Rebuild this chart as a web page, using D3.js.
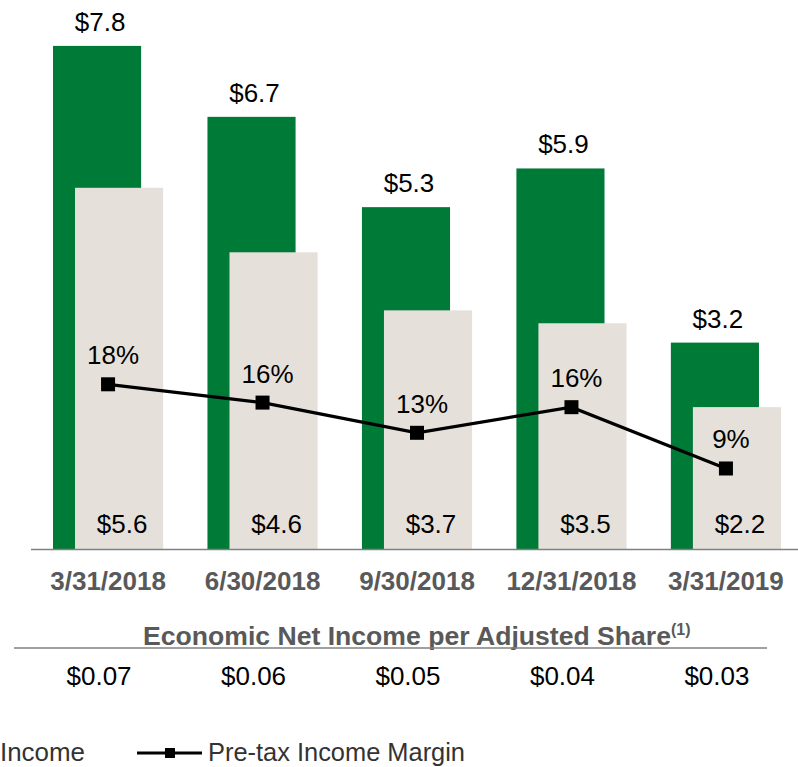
<!DOCTYPE html>
<html>
<head>
<meta charset="utf-8">
<script src="https://cdn.jsdelivr.net/npm/d3@7/dist/d3.min.js"></script>
<style>
  html, body { margin: 0; padding: 0; background: #fff; }
  svg { display: block; font-family: "Liberation Sans", Arial, sans-serif; }
</style>
</head>
<body>
<div id="chart"></div>
<script>
// ── Data ──────────────────────────────────────────────────────────────────────

const quarters = ['3/31/2018', '6/30/2018', '9/30/2018', '12/31/2018', '3/31/2019'];
const revenue = [7.8, 6.7, 5.3, 5.9, 3.2];        // green bars ($M)
const pretaxIncome = [5.6, 4.6, 3.7, 3.5, 2.2];   // beige bars ($M)
const pretaxMargin = [18, 16, 12.7, 15.5, 8.8];   // line (%)
const eniPerShare = [0.07, 0.06, 0.05, 0.04, 0.03];

// ── Setup ─────────────────────────────────────────────────────────────────────

const width = 798;
const height = 767;
const baseY = 549;
const GREEN = '#007A37';
const BEIGE = '#E6E0DA';
const GREY = '#595959';

const svg = d3
  .select('#chart')
  .append('svg')
  .attr('width', width)
  .attr('height', height)
  .attr('viewBox', `0 0 ${width} ${height}`);

const x = d3
  .scaleBand()
  .domain(quarters)
  .range([53, 781])
  .paddingInner(0.287)
  .paddingOuter(0);

const bw = x.bandwidth();
const barW = bw * 0.8;
const shift = bw - barW;

const y = d3.scaleLinear().domain([0, 8]).range([baseY, 33]);
const yPct = d3.scaleLinear().domain([0, 20]).range([baseY, 366]);

const rows = quarters.map((q, i) => ({
  q,
  rev: revenue[i],
  inc: pretaxIncome[i],
  pct: pretaxMargin[i],
  eps: eniPerShare[i],
}));

const cx = (d) => x(d.q) + bw / 2;

// ── Bars ──────────────────────────────────────────────────────────────────────

svg
  .append('g')
  .selectAll('rect')
  .data(rows)
  .join('rect')
  .attr('x', (d) => x(d.q))
  .attr('y', (d) => y(d.rev))
  .attr('width', barW)
  .attr('height', (d) => baseY - y(d.rev))
  .attr('fill', GREEN);

svg
  .append('g')
  .selectAll('rect')
  .data(rows)
  .join('rect')
  .attr('x', (d) => x(d.q) + shift)
  .attr('y', (d) => y(d.inc))
  .attr('width', barW)
  .attr('height', (d) => baseY - y(d.inc))
  .attr('fill', BEIGE);

// value labels
svg
  .append('g')
  .selectAll('text')
  .data(rows)
  .join('text')
  .attr('x', (d) => x(d.q) + barW / 2 + 3)
  .attr('y', (d) => y(d.rev) - 15)
  .attr('text-anchor', 'middle')
  .attr('font-size', 26)
  .attr('fill', '#000')
  .text((d) => `$${d.rev.toFixed(1)}`);

svg
  .append('g')
  .selectAll('text')
  .data(rows)
  .join('text')
  .attr('x', (d) => x(d.q) + shift + barW / 2 + 3)
  .attr('y', baseY - 16)
  .attr('text-anchor', 'middle')
  .attr('font-size', 26)
  .attr('fill', '#000')
  .text((d) => `$${d.inc.toFixed(1)}`);

// ── Axis ──────────────────────────────────────────────────────────────────────

const axis = svg
  .append('g')
  .attr('transform', `translate(0,${baseY})`)
  .call(d3.axisBottom(x).tickSize(0).tickPadding(0));

axis.select('.domain').remove();
axis.selectAll('.tick text')
  .attr('y', 41)
  .attr('dy', 0)
  .attr('font-size', 26)
  .attr('font-weight', 'bold')
  .attr('font-family', '"Liberation Sans", Arial, sans-serif')
  .attr('fill', GREY);

svg
  .append('line')
  .attr('x1', 31)
  .attr('x2', width)
  .attr('y1', baseY + 0.5)
  .attr('y2', baseY + 0.5)
  .attr('stroke', '#808080')
  .attr('stroke-width', 1.5);

// ── Margin line ───────────────────────────────────────────────────────────────

const lineGen = d3
  .line()
  .x(cx)
  .y((d) => yPct(d.pct));

svg
  .append('path')
  .datum(rows)
  .attr('fill', 'none')
  .attr('stroke', '#000')
  .attr('stroke-width', 3.2)
  .attr('d', lineGen);

svg
  .append('g')
  .selectAll('rect')
  .data(rows)
  .join('rect')
  .attr('x', (d) => cx(d) - 7)
  .attr('y', (d) => yPct(d.pct) - 7)
  .attr('width', 14)
  .attr('height', 14)
  .attr('fill', '#000');

svg
  .append('g')
  .selectAll('text')
  .data(rows)
  .join('text')
  .attr('x', (d) => cx(d) + 5)
  .attr('y', (d) => yPct(d.pct) - 20)
  .attr('text-anchor', 'middle')
  .attr('font-size', 26)
  .attr('fill', '#000')
  .text((d) => `${Math.round(d.pct)}%`);

// ── Per-share table ───────────────────────────────────────────────────────────

const title = svg
  .append('text')
  .attr('x', 143)
  .attr('y', 645)
  .attr('font-size', 26)
  .attr('font-weight', 'bold')
  .attr('fill', GREY);

title.append('tspan')
  .attr('textLength', 528)
  .attr('lengthAdjust', 'spacingAndGlyphs')
  .text('Economic Net Income per Adjusted Share');
title.append('tspan')
  .attr('font-size', 16)
  .attr('dy', -10)
  .text('(1)');

svg
  .append('line')
  .attr('x1', 14)
  .attr('x2', 767)
  .attr('y1', 648)
  .attr('y2', 648)
  .attr('stroke', '#808080')
  .attr('stroke-width', 1.5);

svg
  .append('g')
  .selectAll('text')
  .data(rows)
  .join('text')
  .attr('x', (d) => cx(d) - 9)
  .attr('y', 685)
  .attr('text-anchor', 'middle')
  .attr('font-size', 26)
  .attr('fill', '#000')
  .text((d) => `$${d.eps.toFixed(2)}`);

// ── Legend (cut off at left, as in source) ────────────────────────────────────

const legend = svg.append('g').attr('transform', 'translate(0,753)');

legend
  .append('text')
  .attr('x', 85)
  .attr('y', 8)
  .attr('text-anchor', 'end')
  .attr('font-size', 26)
  .attr('fill', '#333')
  .attr('textLength', 85)
  .attr('lengthAdjust', 'spacingAndGlyphs')
  .text('Income');

legend
  .append('line')
  .attr('x1', 137)
  .attr('x2', 202)
  .attr('stroke', '#000')
  .attr('stroke-width', 3);

legend
  .append('rect')
  .attr('x', 165)
  .attr('y', -5)
  .attr('width', 10)
  .attr('height', 10)
  .attr('fill', '#000');

legend
  .append('text')
  .attr('x', 208)
  .attr('y', 8)
  .attr('font-size', 26)
  .attr('fill', '#333')
  .attr('textLength', 257)
  .attr('lengthAdjust', 'spacingAndGlyphs')
  .text('Pre-tax Income Margin');
</script>
</body>
</html>
